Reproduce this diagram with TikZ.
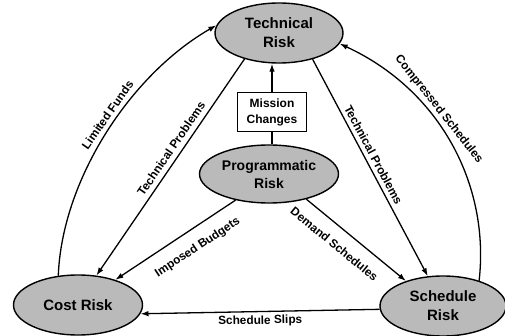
\documentclass[tikz,border=0pt]{standalone}
\usepackage{fontspec}
\setmainfont{Liberation Sans}
\usetikzlibrary{shapes.geometric,arrows.meta}
\begin{document}
\begin{tikzpicture}[x=1pt,y=-1pt,
  risk/.style={ellipse, draw=black, line width=1.4pt, fill=black!27, inner sep=0pt, align=center,
    font=\fontsize{15}{19}\selectfont\bfseries},
  mbox/.style={rectangle, draw=black, line width=1.2pt, fill=white, minimum width=69pt,
    minimum height=39pt, inner sep=0pt, align=center, font=\fontsize{12}{16}\selectfont\bfseries},
  conn/.style={line width=1.3pt, -{Latex[length=8pt,width=5.5pt]}},
  plainline/.style={line width=1.3pt},
  lbl/.style={font=\fontsize{11.8}{14}\selectfont\bfseries, inner sep=1pt, text height=9pt,
    text depth=2pt, sloped}]
\useasboundingbox (0,0) rectangle (505,336);
\fill[white] (0,0) rectangle (505,336);

\node[risk, minimum width=128pt, minimum height=60pt] (tech) at (279,33) {Technical\\Risk};
\node[risk, minimum width=139pt, minimum height=58pt, font=\fontsize{14}{18}\selectfont\bfseries] (prog) at (269,174) {Programmatic\\Risk};
\node[risk, minimum width=129pt, minimum height=60pt] (cost) at (78,305) {Cost Risk};
\node[risk, minimum width=126pt, minimum height=60pt] (sched) at (443,306) {Schedule\\Risk};
\node[mbox] (mission) at (272,112) {Mission\\Changes};

\draw[conn] (mission.north) -- (mission.north |- tech.south);
\draw[plainline] (mission.south) -- (mission.south |- prog.north);

\draw[conn] (cost.124) .. controls (62,180) and (130,75) .. (tech.173)
  node[lbl, pos=0.55, above=1.5pt] {Limited Funds};
\draw[conn] (tech.217) -- node[lbl, pos=0.44, above=2pt] {Technical Problems} (cost.58);
\draw[conn] (prog.218) -- node[lbl, pos=0.40, below=11pt] {Imposed Budgets} (cost.34);
\draw[conn] (prog.326) -- node[lbl, pos=0.39, below=10.5pt] {Demand Schedules} (sched.146);
\draw[conn] (tech.322) -- node[lbl, pos=0.46, above=1pt] {Technical Problems} (sched.117);
\draw[conn] (sched.35) .. controls (490,185) and (440,90) .. (tech.350)
  node[lbl, pos=0.62, above=2.5pt] {Compressed Schedules};
\draw[conn] (sched.183) -- node[lbl, pos=0.5, below=2pt] {Schedule Slips} (cost.-8);
\end{tikzpicture}
\end{document}
